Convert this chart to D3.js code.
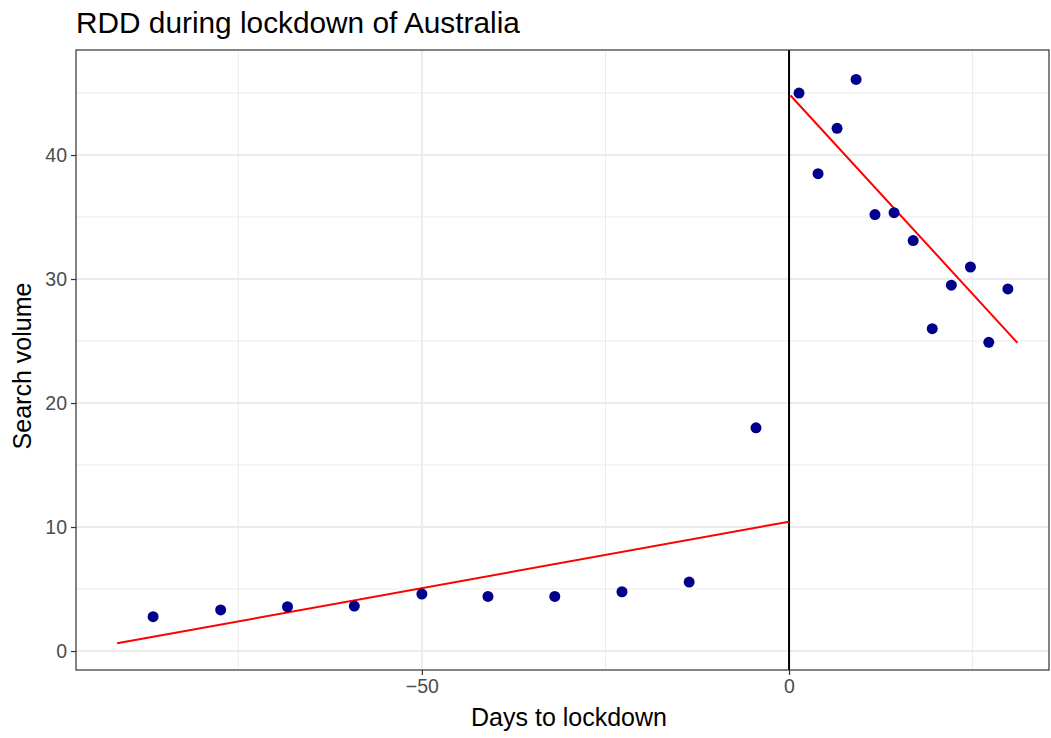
<!DOCTYPE html>
<html>
<head>
<meta charset="utf-8">
<script src="https://cdn.jsdelivr.net/npm/d3@7"></script>
<style>
  body { margin: 0; background: #fff; }
  text { font-family: "Liberation Sans", Arial, Helvetica, sans-serif; }
</style>
</head>
<body>
<div id="chart"></div>
<script>
// days relative to lockdown and search volume
var preDays = [-86.6, -77.4, -68.3, -59.2, -50.0, -41.0, -31.9, -22.75, -13.6, -4.5];
var preVals = [2.77, 3.31, 3.57, 3.63, 4.6, 4.4, 4.4, 4.78, 5.56, 18.0];
var postDays = [1.36, 3.95, 6.54, 9.13, 11.7, 14.3, 16.9, 19.5, 22.1, 24.7, 27.2, 29.8];
var postVals = [45.0, 38.5, 42.15, 46.1, 35.2, 35.35, 33.1, 26.0, 29.5, 30.97, 24.9, 29.2];

// fitted lines (start / end)
var preFit = [[-91.5, 0.62], [0, 10.43]];
var postFit = [[0.2, 44.8], [31.1, 24.86]];

var xTicks = [-50, 0];
var xMinor = [-75, -25, 25];
var yTicks = [0, 10, 20, 30, 40];
var yMinor = [5, 15, 25, 35, 45];

var width = 1051, height = 738;
var margin = {left: 76, right: 2, top: 50, bottom: 68};

var svg = d3.select("#chart").append("svg")
    .attr("width", width)
    .attr("height", height);

var x = d3.scaleLinear()
    .domain([-97.1, 35.4])
    .range([margin.left, width - margin.right]);

var y = d3.scaleLinear()
    .domain([-1.53, 48.47])
    .range([height - margin.bottom, margin.top]);

var x0 = margin.left, x1 = width - margin.right;
var y0 = height - margin.bottom, y1 = margin.top;

// grid
var grid = svg.append("g");
grid.selectAll(".ymin").data(yMinor).enter().append("line")
    .attr("x1", x0).attr("x2", x1)
    .attr("y1", d => y(d)).attr("y2", d => y(d))
    .attr("stroke", "#ebebeb").attr("stroke-width", 1);
grid.selectAll(".xmin").data(xMinor).enter().append("line")
    .attr("y1", y0).attr("y2", y1)
    .attr("x1", d => x(d)).attr("x2", d => x(d))
    .attr("stroke", "#ebebeb").attr("stroke-width", 1);
grid.selectAll(".ymaj").data(yTicks).enter().append("line")
    .attr("x1", x0).attr("x2", x1)
    .attr("y1", d => y(d)).attr("y2", d => y(d))
    .attr("stroke", "#ebebeb").attr("stroke-width", 2);
grid.selectAll(".xmaj").data(xTicks).enter().append("line")
    .attr("y1", y0).attr("y2", y1)
    .attr("x1", d => x(d)).attr("x2", d => x(d))
    .attr("stroke", "#ebebeb").attr("stroke-width", 2);

// axes
var xAxis = svg.append("g")
    .attr("transform", "translate(0," + y0 + ")")
    .call(d3.axisBottom(x).tickValues(xTicks).tickSize(5).tickPadding(4)
        .tickFormat(d => d < 0 ? "\u2212" + Math.abs(d) : d));
var yAxis = svg.append("g")
    .attr("transform", "translate(" + x0 + ",0)")
    .call(d3.axisLeft(y).tickValues(yTicks).tickSize(5).tickPadding(4));

[xAxis, yAxis].forEach(function (a) {
    a.select(".domain").remove();
    a.selectAll(".tick line").attr("stroke", "#333").attr("stroke-width", 1.2);
    a.selectAll(".tick text").attr("fill", "#4d4d4d").style("font-size", "19.5px")
        .style("font-family", "'Liberation Sans', Arial, sans-serif");
});

// lockdown line
svg.append("line")
    .attr("x1", x(0)).attr("x2", x(0))
    .attr("y1", y0).attr("y2", y1)
    .attr("stroke", "#000").attr("stroke-width", 2);

// fitted lines
var line = d3.line().x(d => x(d[0])).y(d => y(d[1]));
[preFit, postFit].forEach(function (f) {
    svg.append("path")
        .attr("d", line(f))
        .attr("fill", "none")
        .attr("stroke", "#ff0000")
        .attr("stroke-width", 2);
});

// points
var pts = preDays.map((d, i) => [d, preVals[i]])
    .concat(postDays.map((d, i) => [d, postVals[i]]));
svg.selectAll("circle").data(pts).enter().append("circle")
    .attr("cx", d => x(d[0]))
    .attr("cy", d => y(d[1]))
    .attr("r", 5.5)
    .attr("fill", "#00008b");

// panel border
svg.append("rect")
    .attr("x", x0).attr("y", y1)
    .attr("width", x1 - x0).attr("height", y0 - y1)
    .attr("fill", "none").attr("stroke", "#333").attr("stroke-width", 1.2);

// titles
svg.append("text")
    .attr("x", 76).attr("y", 33)
    .style("font-size", "29.8px")
    .attr("fill", "#000")
    .text("RDD during lockdown of Australia");

svg.append("text")
    .attr("x", 569).attr("y", 726)
    .attr("text-anchor", "middle")
    .style("font-size", "25px")
    .text("Days to lockdown");

svg.append("text")
    .attr("transform", "translate(31,366) rotate(-90)")
    .attr("text-anchor", "middle")
    .style("font-size", "25px")
    .text("Search volume");
</script>
</body>
</html>
